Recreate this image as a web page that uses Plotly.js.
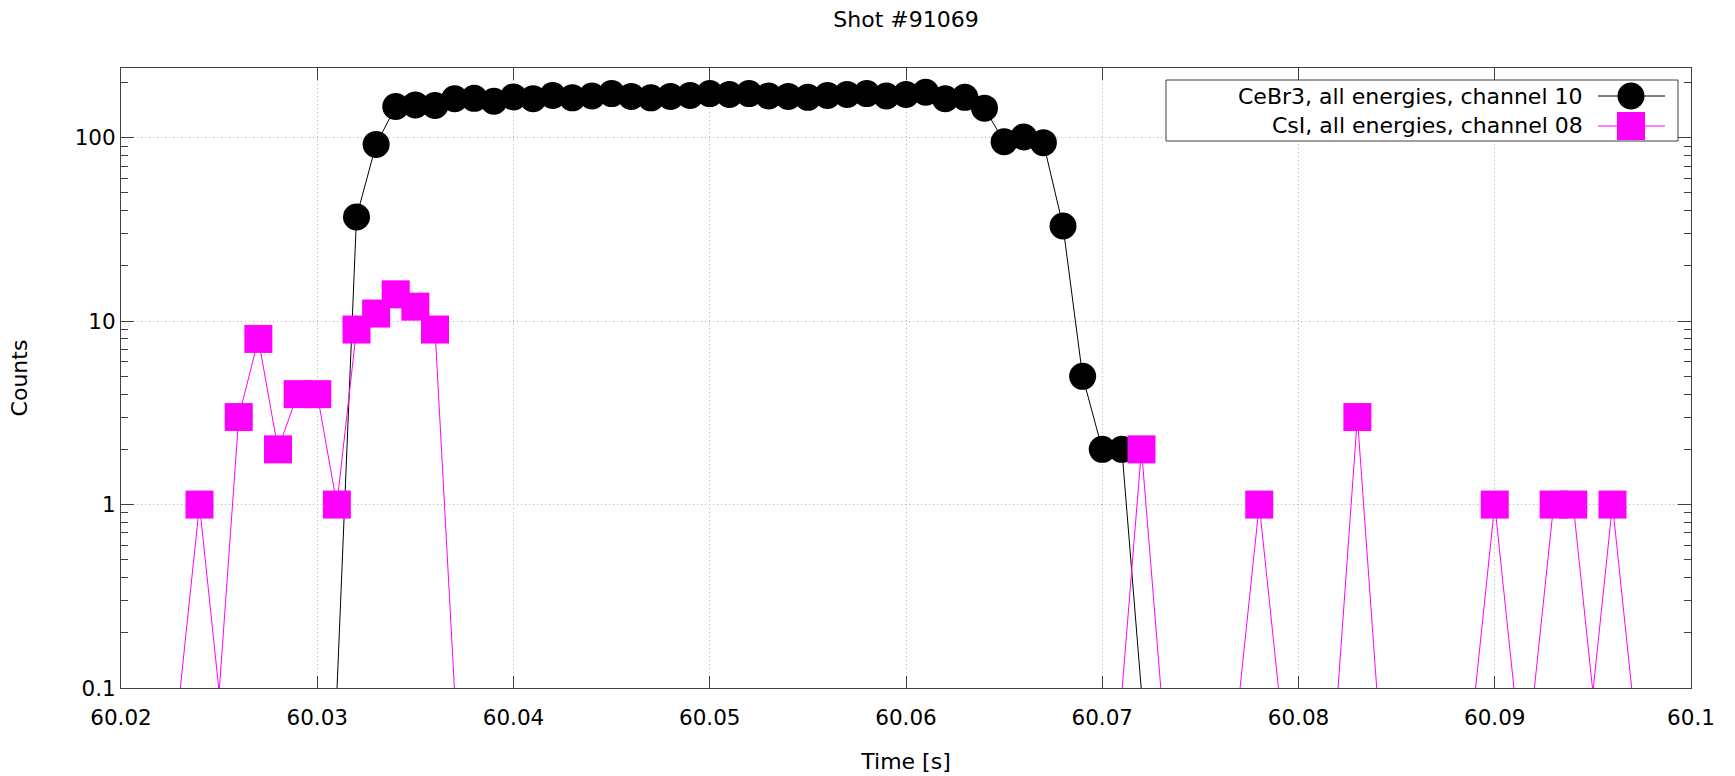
<!DOCTYPE html>
<html>
<head>
<meta charset="utf-8">
<script src="https://cdn.plot.ly/plotly-3.0.1.min.js"></script>
<style>html,body{margin:0;padding:0;background:#fff;}#chart{width:1735px;height:776px;}</style>
</head>
<body>
<div id="chart"></div>
<script>
// ---- Data ----
const TIME = [
  60.020, 60.021, 60.022, 60.023, 60.024, 60.025, 60.026, 60.027, 60.028, 60.029,
  60.030, 60.031, 60.032, 60.033, 60.034, 60.035, 60.036, 60.037, 60.038, 60.039,
  60.040, 60.041, 60.042, 60.043, 60.044, 60.045, 60.046, 60.047, 60.048, 60.049,
  60.050, 60.051, 60.052, 60.053, 60.054, 60.055, 60.056, 60.057, 60.058, 60.059,
  60.060, 60.061, 60.062, 60.063, 60.064, 60.065, 60.066, 60.067, 60.068, 60.069,
  60.070, 60.071, 60.072, 60.073, 60.074, 60.075, 60.076, 60.077, 60.078, 60.079,
  60.080, 60.081, 60.082, 60.083, 60.084, 60.085, 60.086, 60.087, 60.088, 60.089,
  60.090, 60.091, 60.092, 60.093, 60.094, 60.095, 60.096, 60.097, 60.098, 60.099,
  60.100
];
const CEBR3_COUNTS = [
  0, 0, 0, 0, 0, 0, 0, 0, 0, 0,
  0, 0, 37, 92, 148, 151, 150, 163, 164, 158,
  167, 163, 170, 165, 169, 174, 168, 165, 168, 170,
  174, 172, 174, 169, 168, 166, 170, 172, 174, 169,
  172, 177, 163, 166, 145, 95, 101, 94, 33, 5,
  2, 2, 0, 0, 0, 0, 0, 0, 0, 0,
  0, 0, 0, 0, 0, 0, 0, 0, 0, 0,
  0, 0, 0, 0, 0, 0, 0, 0, 0, 0,
  0
];
const CSI_COUNTS = [
  0, 0, 0, 0, 1, 0, 3, 8, 2, 4,
  4, 1, 9, 11, 14, 12, 9, 0, 0, 0,
  0, 0, 0, 0, 0, 0, 0, 0, 0, 0,
  0, 0, 0, 0, 0, 0, 0, 0, 0, 0,
  0, 0, 0, 0, 0, 0, 0, 0, 0, 0,
  0, 0, 2, 0, 0, 0, 0, 0, 1, 0,
  0, 0, 0, 3, 0, 0, 0, 0, 0, 0,
  1, 0, 0, 1, 1, 0, 1, 0, 0, 0,
  0
];
const SERIES_NAMES = ['CeBr3, all energies, channel 10', 'CsI, all energies, channel 08'];
const X_TICKS = [60.02, 60.03, 60.04, 60.05, 60.06, 60.07, 60.08, 60.09, 60.10];
const X_TICK_LABELS = ['60.02', '60.03', '60.04', '60.05', '60.06', '60.07', '60.08', '60.09', '60.1'];
const Y_TICKS = [0.1, 1, 10, 100];
const Y_TICK_LABELS = ['0.1', '1', '10', '100'];
const Y_MINOR_TICKS = [0.2,0.3,0.4,0.5,0.6,0.7,0.8,0.9, 2,3,4,5,6,7,8,9, 20,30,40,50,60,70,80,90, 200];
const TITLE = 'Shot #91069';
const X_TITLE = 'Time [s]';
const Y_TITLE = 'Counts';

// ---- Rendering ----
const Y_MIN = 0.1, Y_MAX = 240;
// gnuplot draws segments to zero-count bins down to the bottom edge; emulate by
// placing zero bins just below the log axis floor (markers hidden there).
const FLOOR = Y_MIN * 0.95;
const lineY = arr => arr.map(v => v > 0 ? v : FLOOR);
const markSize = (arr, s) => arr.map(v => v > 0 ? s : 0);

const BLACK = '#000000', MAGENTA = '#ff00ff';
const FONT = 'DejaVu Sans, Verdana, sans-serif';

const traces = [
  {
    x: TIME, y: lineY(CEBR3_COUNTS), name: SERIES_NAMES[0], type: 'scatter', mode: 'lines+markers',
    line: {color: BLACK, width: 1},
    marker: {symbol: 'circle', color: BLACK, opacity: 1, size: markSize(CEBR3_COUNTS, 27), line: {width: 0}},
    cliponaxis: true, hoverinfo: 'skip'
  },
  {
    x: TIME, y: lineY(CSI_COUNTS), name: SERIES_NAMES[1], type: 'scatter', mode: 'lines+markers',
    line: {color: MAGENTA, width: 1},
    marker: {symbol: 'square', color: MAGENTA, opacity: 1, size: markSize(CSI_COUNTS, 28), line: {width: 0}},
    cliponaxis: true, hoverinfo: 'skip'
  }
];

const M = {l: 121, r: 44, t: 68, b: 88};
const W = 1735, H = 776;
const PW = W - M.l - M.r, PH = H - M.t - M.b;
const px = p => (p - M.l) / PW;
const py = p => (M.t + PH - p) / PH;

// legend geometry (pixels)
const LEG = {left: 1166, right: 1678, top: 80, bottom: 141, rows: [96, 126], textRight: 1585, sL: 1598, sR: 1665, mark: 1631};

const shapes = [
  {type: 'rect', xref: 'paper', yref: 'paper', x0: px(LEG.left), x1: px(LEG.right), y0: py(LEG.bottom), y1: py(LEG.top),
   line: {color: '#404040', width: 1}, fillcolor: '#ffffff', layer: 'above'},
  {type: 'line', xref: 'paper', yref: 'paper', x0: px(LEG.sL), x1: px(LEG.sR), y0: py(LEG.rows[0]), y1: py(LEG.rows[0]),
   line: {color: BLACK, width: 1}, layer: 'above'},
  {type: 'circle', xref: 'paper', yref: 'paper', xsizemode: 'pixel', ysizemode: 'pixel',
   xanchor: px(LEG.mark), yanchor: py(LEG.rows[0]), x0: -13.5, x1: 13.5, y0: -13.5, y1: 13.5,
   fillcolor: BLACK, line: {width: 0}, layer: 'above'},
  {type: 'line', xref: 'paper', yref: 'paper', x0: px(LEG.sL), x1: px(LEG.sR), y0: py(LEG.rows[1]), y1: py(LEG.rows[1]),
   line: {color: MAGENTA, width: 1}, layer: 'above'},
  {type: 'rect', xref: 'paper', yref: 'paper', xsizemode: 'pixel', ysizemode: 'pixel',
   xanchor: px(LEG.mark), yanchor: py(LEG.rows[1]), x0: -14, x1: 14, y0: -14, y1: 14,
   fillcolor: MAGENTA, line: {width: 0}, layer: 'above'}
];

const annotations = SERIES_NAMES.map((t, i) => ({
  xref: 'paper', yref: 'paper', x: px(LEG.textRight), y: py(LEG.rows[i]),
  xanchor: 'right', yanchor: 'middle', showarrow: false, text: t,
  font: {family: FONT, size: 22, color: '#000'}
}));

const axisCommon = {
  ticks: 'inside', tickcolor: '#404040', tickwidth: 1,
  showline: true, linecolor: '#404040', linewidth: 1, mirror: 'ticks',
  showgrid: true, gridcolor: '#b4b4b4', gridwidth: 1, griddash: '1px,3px',
  zeroline: false, automargin: false,
  tickfont: {family: FONT, size: 21.5, color: '#000'}
};

const layout = {
  width: W, height: H, margin: M,
  paper_bgcolor: '#ffffff', plot_bgcolor: '#ffffff',
  font: {family: FONT, size: 22, color: '#000'},
  showlegend: false,
  title: {text: TITLE, x: 0.5, xref: 'paper', xanchor: 'center', y: 1 - 19 / H, yref: 'container', yanchor: 'middle',
          font: {family: FONT, size: 22, color: '#000'}},
  xaxis: Object.assign({}, axisCommon, {
    range: [60.02, 60.1], tickmode: 'array', tickvals: X_TICKS, ticktext: X_TICK_LABELS, ticklen: 12,
    ticklabelstandoff: 10,
    title: {text: X_TITLE, standoff: 24, font: {family: FONT, size: 22, color: '#000'}}
  }),
  yaxis: Object.assign({}, axisCommon, {
    type: 'log', range: [Math.log10(Y_MIN), Math.log10(Y_MAX)],
    tickmode: 'array', tickvals: Y_TICKS, ticktext: Y_TICK_LABELS, ticklen: 13,
    minor: {tickmode: 'array', tickvals: Y_MINOR_TICKS, ticks: 'inside', ticklen: 7, tickcolor: '#404040', showgrid: false},
    title: {text: Y_TITLE, standoff: 40, font: {family: FONT, size: 22, color: '#000'}}
  }),
  shapes: shapes,
  annotations: annotations
};

Plotly.newPlot('chart', traces, layout, {displayModeBar: false, staticPlot: true});
</script>
</body>
</html>
